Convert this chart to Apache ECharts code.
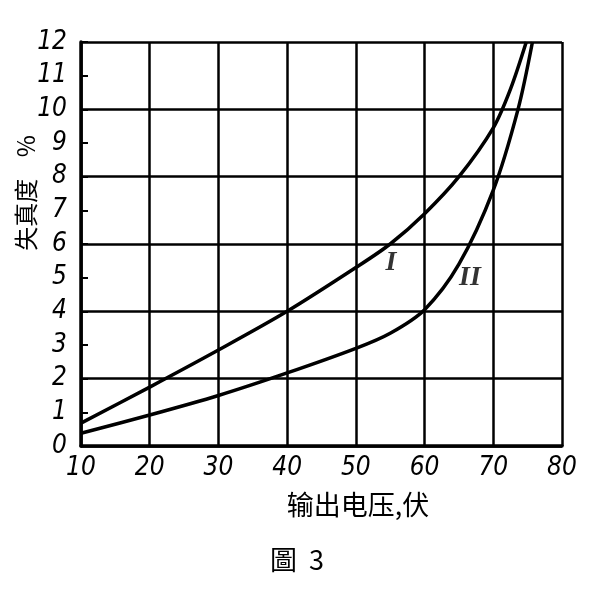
<!DOCTYPE html>
<html>
<head>
<meta charset="utf-8">
<script src="https://cdn.jsdelivr.net/npm/echarts@6/dist/echarts.min.js"></script>
<style>html,body{margin:0;padding:0;background:#fff}#c{width:599px;height:601px}</style>
</head>
<body>
<div id="c"></div>
<script>
// Data (x: output voltage, V; y: distortion, %)
const curveI = [[10,0.68],[20,1.75],[30,2.85],[40,4.0],[50,5.3],[55,6.0],[60,6.9],[65,8.0],[70,9.45],[72.5,10.6],[74.8,12]];
const curveII = [[10,0.38],[20,0.92],[30,1.5],[40,2.17],[50,2.9],[55,3.35],[60,4.05],[65,5.4],[70,7.6],[73.6,10],[75.7,12]];
const curveLabels = [{name:'I', value:[55.1,5.43]},{name:'II', value:[66.6,4.99]}];
const xTicks = [10,20,30,40,50,60,70,80];
const yTicks = [0,1,2,3,4,5,6,7,8,9,10,11,12];
const yName = '失真度    %';
const xName = '输出电压,伏';
const figTitle = '圖  3';

const chart = echarts.init(document.getElementById('c'), null, {renderer:'canvas'});
const numFont = {fontFamily:'DejaVu Sans Condensed, DejaVu Sans', fontStyle:'italic', fontSize:26, color:'#000'};
chart.setOption({
  backgroundColor:'#fff',
  animation:false,
  grid:{left:81, right:37, top:42, bottom:155},
  xAxis:{type:'value', min:xTicks[0], max:xTicks[xTicks.length-1], interval:10,
    axisLine:{show:true, lineStyle:{color:'#000', width:3.5}},
    axisTick:{show:false},
    splitLine:{show:true, lineStyle:{color:'#000', width:2.5}},
    axisLabel:Object.assign({margin:9}, numFont)},
  yAxis:[
    {type:'value', min:yTicks[0], max:yTicks[yTicks.length-1], interval:1, position:'left',
      axisLine:{show:true, lineStyle:{color:'#000', width:3.5}},
      axisTick:{show:true, inside:true, length:7, lineStyle:{color:'#000', width:2}},
      splitLine:{show:false},
      axisLabel:Object.assign({margin:14}, numFont)},
    {type:'value', min:0, max:12, interval:2, position:'left',
      axisLine:{show:false}, axisTick:{show:false}, axisLabel:{show:false},
      splitLine:{show:true, lineStyle:{color:'#000', width:2.5}}}
  ],
  series:[
    {type:'line', data:curveI, smooth:0.3, showSymbol:false, symbol:'none',
      lineStyle:{color:'#000', width:3.5}},
    {type:'line', data:curveII, smooth:0.3, showSymbol:false, symbol:'none',
      lineStyle:{color:'#000', width:3.5}},
    {type:'scatter', data:curveLabels, symbolSize:0,
      label:{show:true, position:'inside', formatter:p=>p.name,
        fontFamily:'Liberation Serif', fontStyle:'italic', fontWeight:'bold', fontSize:28, color:'#000'}}
  ],
  graphic:[
    {type:'text', x:26, y:193, rotation:Math.PI/2,
      style:{text:yName, fontFamily:'Noto Sans CJK SC', fontSize:24, fill:'#000', align:'center', verticalAlign:'middle'}},
    {type:'text', x:358, y:505,
      style:{text:xName, fontFamily:'Noto Sans CJK SC', fontSize:27, fill:'#000', align:'center', verticalAlign:'middle'}},
    {type:'text', x:297, y:560,
      style:{text:figTitle, fontFamily:'Noto Sans CJK TC', fontSize:27, fill:'#000', align:'center', verticalAlign:'middle'}}
  ]
});
</script>
</body>
</html>
